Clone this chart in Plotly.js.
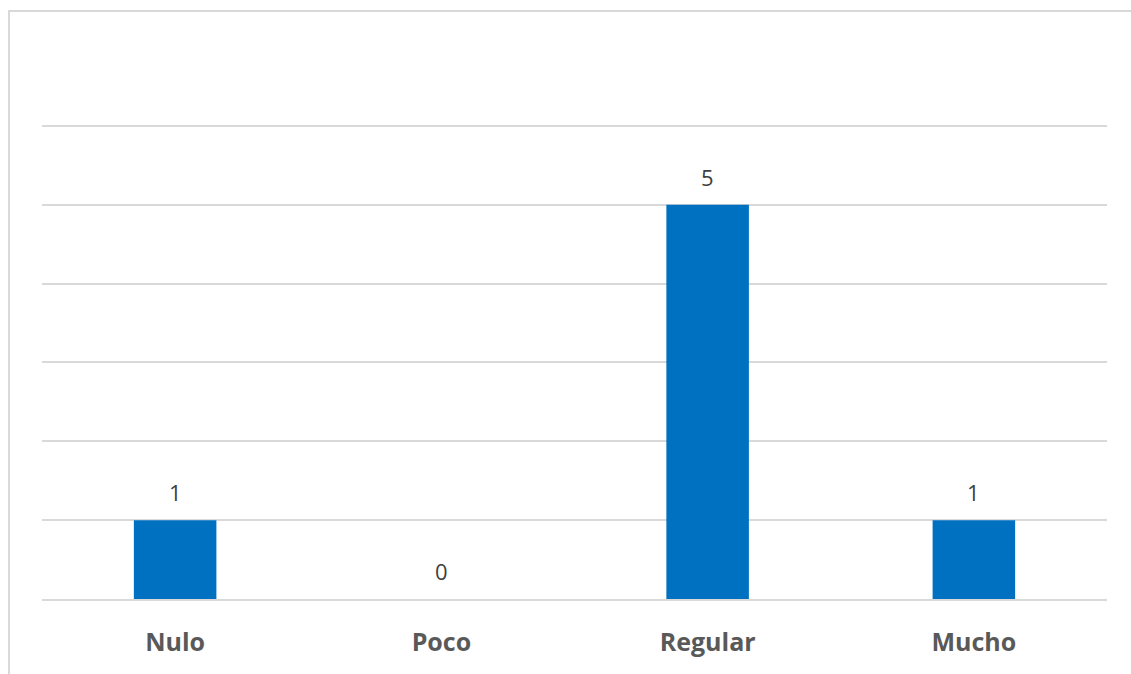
<!DOCTYPE html>
<html>
<head>
<meta charset="utf-8">
<script src="https://cdn.plot.ly/plotly-3.0.1.min.js"></script>
<style>
html,body{margin:0;padding:0;background:#fff;}
#wrap{position:relative;width:1131px;height:674px;overflow:hidden;}
#chart{width:1131px;height:674px;}
#frame{position:absolute;left:8px;top:10px;width:1200px;height:800px;border-top:2px solid #d9d9d9;border-left:2px solid #d9d9d9;pointer-events:none;}
</style>
</head>
<body>
<div id="wrap"><div id="chart"></div><div id="frame"></div></div>
<script>
const categories = ["Nulo", "Poco", "Regular", "Mucho"];
const values = [1, 0, 5, 1];
const valueLabels = ["1", "0", "5", "1"];

const trace = {
  type: "bar",
  x: categories,
  y: values,
  marker: {color: "#0070C0"},
  hoverinfo: "x+y"
};

const annotations = categories.map((c, i) => ({
  x: c,
  y: values[i],
  xref: "x",
  yref: "y",
  text: valueLabels[i],
  showarrow: false,
  xanchor: "center",
  yanchor: "middle",
  yshift: 28,
  font: {family: "Open Sans, Lato, sans-serif", size: 22, color: "#404040"}
}));

const layout = {
  width: 1131,
  height: 674,
  margin: {l: 42, r: 24, t: 122, b: 75},
  paper_bgcolor: "#ffffff",
  plot_bgcolor: "#ffffff",
  bargap: 0.69,
  showlegend: false,
  annotations: annotations,
  xaxis: {
    type: "category",
    showgrid: false,
    showline: true,
    linecolor: "#d9d9d9",
    linewidth: 2,
    ticks: "",
    ticklabelstandoff: 20,
    tickfont: {family: "Open Sans, Lato, sans-serif", size: 25, color: "#595959", weight: "bold"}
  },
  yaxis: {
    range: [0, 6.05],
    dtick: 1,
    showticklabels: false,
    showgrid: true,
    gridcolor: "#d9d9d9",
    gridwidth: 2,
    zeroline: false,
    showline: false
  }
};

Plotly.newPlot("chart", [trace], layout, {displayModeBar: false, staticPlot: true});
</script>
</body>
</html>
